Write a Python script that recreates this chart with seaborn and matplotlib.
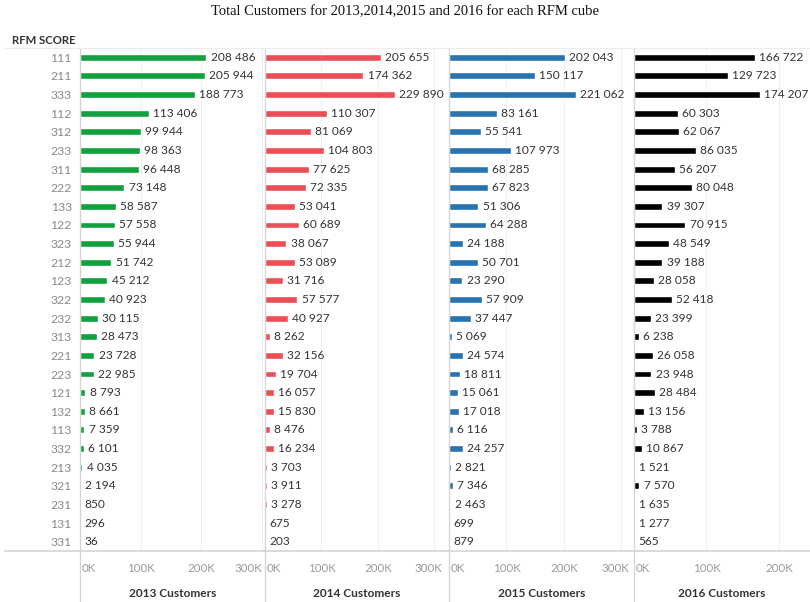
import numpy as np
import pandas as pd
import matplotlib.pyplot as plt
import matplotlib.transforms as mtransforms
import seaborn as sns
from matplotlib.lines import Line2D

sns.set_style('white')
plt.rcParams['font.family'] = ['Lato', 'DejaVu Sans']

# RFM cubes in display order
rfm_scores = ['111', '211', '333', '112', '312', '233', '311', '222', '133', '122',
              '323', '212', '123', '322', '232', '313', '221', '223', '121', '132',
              '113', '332', '213', '321', '231', '131', '331']

customers_2013 = [208486, 205944, 188773, 113406, 99944, 98363, 96448, 73148, 58587, 57558,
                  55944, 51742, 45212, 40923, 30115, 28473, 23728, 22985, 8793, 8661,
                  7359, 6101, 4035, 2194, 850, 296, 36]
customers_2014 = [205655, 174362, 229890, 110307, 81069, 104803, 77625, 72335, 53041, 60689,
                  38067, 53089, 31716, 57577, 40927, 8262, 32156, 19704, 16057, 15830,
                  8476, 16234, 3703, 3911, 3278, 675, 203]
customers_2015 = [202043, 150117, 221062, 83161, 55541, 107973, 68285, 67823, 51306, 64288,
                  24188, 50701, 23290, 57909, 37447, 5069, 24574, 18811, 15061, 17018,
                  6116, 24257, 2821, 7346, 2463, 699, 879]
customers_2016 = [166722, 129723, 174207, 60303, 62067, 86035, 56207, 80048, 39307, 70915,
                  48549, 39188, 28058, 52418, 23399, 6238, 26058, 23948, 28484, 13156,
                  3788, 10867, 1521, 7570, 1635, 1277, 565]

years = ['2013', '2014', '2015', '2016']
series = [customers_2013, customers_2014, customers_2015, customers_2016]
colors = ['#12a03f', '#ea4f57', '#2a72ad', '#000000']
x_max = [305000, 326000, 322000, 243000]
x_ticks = [[0, 100000, 200000, 300000], [0, 100000, 200000, 300000],
           [0, 100000, 200000, 300000], [0, 100000, 200000]]

W, H = 810, 602
fig = plt.figure(figsize=(W / 100, H / 100), dpi=100)

# panel pixel edges
edges = [80, 265, 449, 634, 810]
top_px, bot_px = 48, 551

for i, year in enumerate(years):
    left = edges[i] / W
    width = (edges[i + 1] - edges[i]) / W
    ax = fig.add_axes([left, 1 - bot_px / H, width, (bot_px - top_px) / H])
    df = pd.DataFrame({'score': rfm_scores, 'value': series[i]})
    sns.barplot(data=df, x='value', y='score', orient='h', color=colors[i],
                width=0.37, ax=ax, saturation=1)
    ax.bar_label(ax.containers[0], labels=[f"{v:,}".replace(',', ' ') for v in series[i]],
                 padding=3, fontsize=8.6, color='#333333')
    ax.set_xlim(0, x_max[i])
    ax.set_ylim(len(rfm_scores) - 0.5, -0.5)
    ax.set_xticks(x_ticks[i])
    ax.set_xticklabels([f"{int(t / 1000)}K" for t in x_ticks[i]], color='#9a9a9a', fontsize=8.3)
    ax.tick_params(axis='x', length=0, pad=9)
    # keep edge labels inside their panel
    tl = ax.get_xticklabels()
    tl[0].set_horizontalalignment('left')
    tl[0].set_transform(tl[0].get_transform() + mtransforms.ScaledTranslation(2 / 100, 0, fig.dpi_scale_trans))
    if len(tl) == 4:
        tl[-1].set_horizontalalignment('right')
        tl[-1].set_transform(tl[-1].get_transform() + mtransforms.ScaledTranslation(8 / 100, 0, fig.dpi_scale_trans) if i > 0
                             else tl[-1].get_transform())
    ax.xaxis.grid(True, color='#f0f0f0', lw=0.8)
    ax.set_axisbelow(True)
    ax.set_ylabel('')
    ax.set_xlabel(f"{year} Customers", fontsize=8.6, fontweight='bold', color='#333333', labelpad=10)
    for s in ax.spines.values():
        s.set_visible(False)
    if i == 0:
        ax.tick_params(axis='y', length=0, pad=6, labelsize=8.8, labelcolor='#8a8a8a')
    else:
        ax.set_yticks([])

# separators
line_c = '#d4d4d4'
for x in edges[:-1]:
    fig.add_artist(Line2D([x / W, x / W], [1 - top_px / H, 0], color=line_c, lw=0.9))
fig.add_artist(Line2D([5 / W, 1], [1 - bot_px / H, 1 - bot_px / H], color=line_c, lw=1.2))
fig.add_artist(Line2D([5 / W, 1], [1 - top_px / H, 1 - top_px / H], color='#ececec', lw=0.8))

fig.text(12 / W, 1 - 40 / H, 'RFM SCORE', fontsize=8.2, fontweight='bold', color='#333333',
         va='center', ha='left')
fig.text(405 / W, 1 - 12 / H, 'Total Customers for 2013,2014,2015 and 2016 for each RFM cube',
         fontsize=10.5, family='Liberation Serif', ha='center', va='center', color='#111111')

fig.savefig('out.png', dpi=100)
